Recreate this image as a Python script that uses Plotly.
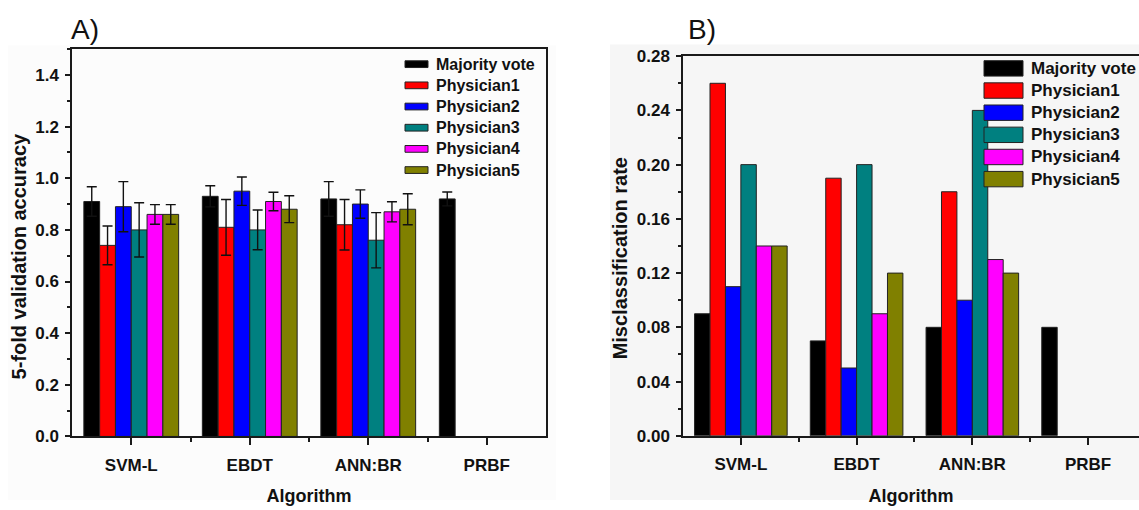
import plotly.graph_objects as go

# ---- data ----
algorithms = ["SVM-L", "EBDT", "ANN:BR", "PRBF"]
series_names = ["Majority vote", "Physician1", "Physician2",
                "Physician3", "Physician4", "Physician5"]
series_colors = ["#000000", "#ff0000", "#0000ff", "#008080", "#ff00ff", "#808000"]

# Panel A: 5-fold validation accuracy (mean) and error (+/-)
acc_majority = [0.91, 0.93, 0.92, 0.92]
acc_phys1 = [0.74, 0.81, 0.82, None]
acc_phys2 = [0.89, 0.95, 0.90, None]
acc_phys3 = [0.80, 0.80, 0.76, None]
acc_phys4 = [0.86, 0.91, 0.87, None]
acc_phys5 = [0.86, 0.88, 0.88, None]

err_majority = [0.057, 0.041, 0.067, 0.027]
err_phys1 = [0.075, 0.108, 0.098, None]
err_phys2 = [0.097, 0.055, 0.055, None]
err_phys3 = [0.105, 0.077, 0.107, None]
err_phys4 = [0.038, 0.036, 0.039, None]
err_phys5 = [0.038, 0.052, 0.060, None]

# Panel B: misclassification rate
mis_majority = [0.09, 0.07, 0.08, 0.08]
mis_phys1 = [0.26, 0.19, 0.18, None]
mis_phys2 = [0.11, 0.05, 0.10, None]
mis_phys3 = [0.20, 0.20, 0.24, None]
mis_phys4 = [0.14, 0.09, 0.13, None]
mis_phys5 = [0.14, 0.12, 0.12, None]

acc_series = [acc_majority, acc_phys1, acc_phys2, acc_phys3, acc_phys4, acc_phys5]
err_series = [err_majority, err_phys1, err_phys2, err_phys3, err_phys4, err_phys5]
mis_series = [mis_majority, mis_phys1, mis_phys2, mis_phys3, mis_phys4, mis_phys5]

# ---- layout helpers (pixel -> paper) ----
W, H = 1139, 510
def px(x):
    return x / W
def py(y):
    return 1 - y / H

FONT = "Arial, Liberation Sans, sans-serif"
AX = "#1a1a1a"
x_pos = list(range(len(algorithms)))

fig = go.Figure()

for name, color, vals, errs in zip(series_names, series_colors, acc_series, err_series):
    fig.add_trace(go.Bar(
        x=x_pos, y=vals, name=name, xaxis="x", yaxis="y", showlegend=False,
        marker=dict(color=color, line=dict(color="#222222", width=1)),
        error_y=dict(type="data", array=errs, visible=True, color="#111111",
                     thickness=1.4, width=5),
    ))

for name, color, vals in zip(series_names, series_colors, mis_series):
    fig.add_trace(go.Bar(
        x=x_pos, y=vals, name=name, xaxis="x2", yaxis="y2", showlegend=False,
        marker=dict(color=color, line=dict(color="#222222", width=1)),
    ))

tickfont = dict(family=FONT, size=17, color="#111111", weight="bold")
xtitlefont = dict(family=FONT, size=18, color="#111111", weight="bold")
ytitlefont = dict(family=FONT, size=20, color="#111111", weight="bold")

common_x = dict(
    tickvals=x_pos, ticktext=algorithms, ticks="outside", ticklen=7, tickwidth=1.5,
    tickcolor=AX, showline=True, linecolor=AX, linewidth=1.5, showgrid=False,
    zeroline=False, tickfont=tickfont, ticklabelstandoff=5,
    minor=dict(tickvals=[0.5, 1.5, 2.5], ticks="outside", ticklen=4,
               tickwidth=1.5, tickcolor=AX, showgrid=False),
    title=dict(text="Algorithm", font=xtitlefont, standoff=16),
)
common_y = dict(
    ticks="outside", ticklen=5, tickwidth=1.5, tickcolor=AX, showline=True,
    linecolor=AX, linewidth=1.5, showgrid=False, zeroline=False,
    tickfont=tickfont, ticklabelstandoff=3,
)

fig.update_layout(
    width=W, height=H,
    margin=dict(l=0, r=0, t=0, b=0),
    paper_bgcolor="white", plot_bgcolor="rgba(0,0,0,0)",
    barmode="group", bargap=0.2, bargroupgap=0,
    xaxis=dict(common_x, domain=[px(72), px(546)], range=[-0.5, 3.5],
               anchor="y", mirror=True),
    yaxis=dict(common_y, domain=[py(444), py(41.7)], range=[0, 1.5], anchor="x",
               tick0=0, dtick=0.2, tickformat=".1f", mirror=True,
               minor=dict(dtick=0.1, ticks="outside", ticklen=3, tickwidth=1.5,
                          tickcolor=AX, showgrid=False)),
    xaxis2=dict(common_x, domain=[px(683), 1.0], range=[-0.5, 3.44],
                anchor="y2", mirror=True),
    yaxis2=dict(common_y, domain=[py(443.3), py(49)], range=[0, 0.28], anchor="x2",
                tick0=0, dtick=0.04, tickformat=".2f", mirror=False,
                minor=dict(dtick=0.02, ticks="outside", ticklen=3, tickwidth=1.5,
                           tickcolor=AX, showgrid=False)),
)

shapes = [
    # faint grey panel backgrounds
    dict(type="rect", xref="paper", yref="paper", x0=px(8), x1=px(556),
         y0=0, y1=py(38), fillcolor="#fcfcfc", line=dict(width=0), layer="below"),
    dict(type="rect", xref="paper", yref="paper", x0=px(610), x1=1.0,
         y0=0, y1=py(37), fillcolor="#f6f6f6", line=dict(width=0), layer="below"),
]
annotations = [
    dict(text="A)", x=px(69), y=py(21), xref="paper", yref="paper",
         xanchor="left", yanchor="middle", showarrow=False,
         font=dict(family=FONT, size=28, color="#111111")),
    dict(text="B)", x=px(686), y=py(21), xref="paper", yref="paper",
         xanchor="left", yanchor="middle", showarrow=False,
         font=dict(family=FONT, size=28, color="#111111")),
    # vertical axis titles
    dict(text="5-fold validation accuracy", x=px(19), y=py(257), xref="paper",
         yref="paper", xanchor="center", yanchor="middle", textangle=-90,
         showarrow=False, font=ytitlefont),
    dict(text="Misclassification rate", x=px(620), y=py(259), xref="paper",
         yref="paper", xanchor="center", yanchor="middle", textangle=-90,
         showarrow=False, font=ytitlefont),
]

# legend boxes drawn next to each panel's series labels
legend_specs = [
    dict(sx0=405, sx1=428, sh=7, tx=434, y0=57.3, dy=22.0, size=16),
    dict(sx0=984, sx1=1023, sh=16, tx=1029, y0=61.7, dy=23.0, size=17),
]
for spec in legend_specs:
    for i, (name, color) in enumerate(zip(series_names, series_colors)):
        yc = spec["y0"] + i * spec["dy"]
        shapes.append(dict(
            type="rect", xref="paper", yref="paper",
            x0=px(spec["sx0"]), x1=px(spec["sx1"]),
            y0=py(yc + spec["sh"] / 2), y1=py(yc - spec["sh"] / 2),
            fillcolor=color, line=dict(color="#222222", width=1), layer="above"))
        annotations.append(dict(
            text=name, x=px(spec["tx"]), y=py(yc), xref="paper", yref="paper",
            xanchor="left", yanchor="middle", showarrow=False,
            font=dict(family=FONT, size=spec["size"], color="#111111", weight="bold")))

fig.update_layout(shapes=shapes, annotations=annotations)

fig.write_html("out.html")
